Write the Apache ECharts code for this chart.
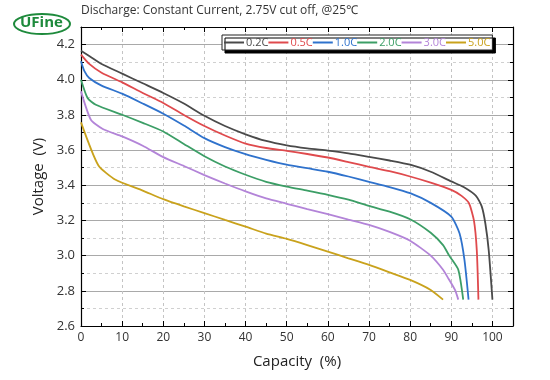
<!DOCTYPE html>
<html>
<head>
<meta charset="utf-8">
<script src="https://cdn.jsdelivr.net/npm/echarts@6/dist/echarts.min.js"></script>
<style>
html,body{margin:0;padding:0;background:#fff;}
#chart{width:550px;height:380px;}
</style>
</head>
<body>
<div id="chart"></div>
<script>
var seriesNames = ['0.2C', '0.5C', '1.0C', '2.0C', '3.0C', '5.0C'];
var seriesColors = ['#4a4a4a', '#df4a4d', '#2f72cc', '#3c9e66', '#b384d8', '#c9a21c'];

var cap02 = [0, 2, 5, 10, 15, 20, 25, 30, 35, 40, 45, 50, 55, 60, 65, 70, 75, 80, 85, 90, 93, 96, 97.4, 98.3, 99.1, 100];
var volt02 = [4.165, 4.135, 4.09, 4.035, 3.98, 3.925, 3.865, 3.795, 3.737, 3.69, 3.652, 3.627, 3.61, 3.597, 3.582, 3.562, 3.541, 3.517, 3.477, 3.422, 3.39, 3.34, 3.28, 3.18, 3.03, 2.75];

var cap05 = [0, 2, 5, 10, 15, 20, 25, 30, 35, 40, 45, 50, 55, 60, 65, 70, 75, 80, 85, 90, 92.5, 94.3, 95.5, 96.2, 96.6];
var volt05 = [4.143, 4.09, 4.04, 3.985, 3.925, 3.868, 3.80, 3.737, 3.683, 3.637, 3.612, 3.596, 3.578, 3.558, 3.532, 3.505, 3.48, 3.45, 3.415, 3.374, 3.34, 3.298, 3.2, 3.03, 2.75];

var cap10 = [0, 0.8, 2, 5, 10, 15, 20, 25, 30, 35, 40, 45, 50, 55, 60, 65, 70, 75, 80, 85, 90, 92, 93.2, 94.2];
var volt10 = [4.105, 4.05, 4.01, 3.967, 3.921, 3.865, 3.807, 3.74, 3.668, 3.617, 3.577, 3.545, 3.517, 3.497, 3.477, 3.45, 3.42, 3.39, 3.355, 3.30, 3.222, 3.127, 2.976, 2.75];

var cap20 = [0, 1.6, 3.6, 10, 15, 20, 25, 30, 35, 40, 45, 50, 55, 60, 65, 70, 75, 80, 85, 88, 89.5, 91.7, 92.9];
var volt20 = [4.0, 3.896, 3.858, 3.801, 3.755, 3.706, 3.635, 3.565, 3.507, 3.46, 3.42, 3.393, 3.37, 3.346, 3.318, 3.283, 3.25, 3.207, 3.13, 3.06, 3.0, 2.92, 2.75];

var cap30 = [0, 2.4, 5.3, 10, 15, 20, 25, 30, 35, 40, 45, 50, 55, 60, 65, 70, 75, 80, 85, 88, 89.3, 90.9, 91.7];
var volt30 = [3.934, 3.773, 3.72, 3.678, 3.625, 3.56, 3.51, 3.458, 3.41, 3.365, 3.325, 3.295, 3.265, 3.236, 3.205, 3.175, 3.135, 3.085, 3.0, 2.92, 2.87, 2.805, 2.75];

var cap50 = [0, 4.2, 8.4, 15, 20, 25, 30, 35, 40, 45, 50, 55, 60, 65, 70, 75, 80, 85, 88];
var volt50 = [3.758, 3.514, 3.431, 3.37, 3.321, 3.28, 3.242, 3.203, 3.165, 3.125, 3.095, 3.06, 3.023, 2.985, 2.947, 2.905, 2.862, 2.805, 2.75];

var xTickLabels = ['0', '10', '20', '30', '40', '50', '60', '70', '80', '90', '100'];
var yTickLabels = ['2.6', '2.8', '3.0', '3.2', '3.4', '3.6', '3.8', '4.0', '4.2'];

var caps = [cap02, cap05, cap10, cap20, cap30, cap50];
var volts = [volt02, volt05, volt10, volt20, volt30, volt50];

function pairs(c, v) { return c.map(function (x, i) { return [x, v[i]]; }); }

var chart = echarts.init(document.getElementById('chart'), null, { renderer: 'canvas' });

var FONT = "'Open Sans', 'Noto Sans', sans-serif";

function xAxisCfg(pos, labels) {
  return {
    type: 'value', position: pos, min: 0, max: 105, interval: 10,
    axisLine: { show: true, onZero: false, lineStyle: { color: '#000', width: 1.2 } },
    axisTick: { show: true, inside: true, length: 5, lineStyle: { color: '#000' } },
    minorTick: { show: true, splitNumber: 2, length: 3, lineStyle: { color: '#000' } },
    axisLabel: {
      show: labels, color: '#333', fontSize: 12, fontFamily: FONT, margin: 6,
      showMaxLabel: false,
      formatter: function (v) { var i = Math.round(v / 10); return (Math.abs(v - i * 10) < 1e-6 && xTickLabels[i] !== undefined) ? xTickLabels[i] : ''; }
    },
    splitLine: { show: labels, lineStyle: { color: '#c4c4c4', type: [3, 3], width: 1 } },
    minorSplitLine: { show: false },
    name: labels ? 'Capacity  (%)' : '', nameLocation: 'middle', nameGap: 28,
    nameTextStyle: { fontSize: 15, color: '#222', fontFamily: FONT }
  };
}
function yAxisCfg(pos, labels) {
  return {
    type: 'value', position: pos, min: 2.6, max: 4.3, interval: 0.2,
    axisLine: { show: true, onZero: false, lineStyle: { color: '#000', width: 1.2 } },
    axisTick: { show: true, inside: true, length: 5, lineStyle: { color: '#000' } },
    minorTick: { show: true, splitNumber: 2, length: 3, lineStyle: { color: '#000' } },
    axisLabel: {
      show: labels, color: '#333', fontSize: 13, fontFamily: FONT, margin: 6,
      showMaxLabel: false,
      formatter: function (v) { var i = Math.round((v - 2.6) / 0.2); return (Math.abs(v - (2.6 + i * 0.2)) < 1e-6 && yTickLabels[i] !== undefined) ? yTickLabels[i] : ''; }
    },
    splitLine: { show: labels, lineStyle: { color: '#a9a9a9', width: 1 } },
    minorSplitLine: { show: labels, lineStyle: { color: '#d0d0d0', type: [3, 3], width: 1 } },
    name: labels ? 'Voltage  (V)' : '', nameLocation: 'middle', nameGap: 30,
    nameTextStyle: { fontSize: 15, color: '#222', fontFamily: FONT }
  };
}

var series = seriesNames.map(function (n, k) {
  return {
    name: n, type: 'line', xAxisIndex: 0, yAxisIndex: 0,
    data: pairs(caps[k], volts[k]),
    showSymbol: false, smooth: 0.2,
    lineStyle: { color: seriesColors[k], width: 1.8 },
    itemStyle: { color: seriesColors[k] },
    z: 10 - k
  };
});

chart.setOption({
  animation: false,
  backgroundColor: '#fff',
  color: seriesColors,
  grid: { left: 81, right: 37, top: 27, bottom: 54, containLabel: false },
  xAxis: [xAxisCfg('bottom', true), xAxisCfg('top', false)],
  yAxis: [yAxisCfg('left', true), yAxisCfg('right', false)],
  legend: {
    left: 222, top: 35,
    data: seriesNames.map(function (n, k) { return { name: n, textStyle: { color: seriesColors[k] } }; }),
    icon: 'rect', itemWidth: 20, itemHeight: 2, itemGap: 0,
    padding: [2, 2, 2, 2],
    backgroundColor: '#fff', borderColor: '#222', borderWidth: 1,
    shadowColor: '#000', shadowBlur: 0, shadowOffsetX: 3, shadowOffsetY: 3,
    textStyle: { fontSize: 11, fontFamily: FONT, padding: [0, 0, 0, -3] }
  },
  graphic: [
    { type: 'text', left: 81, top: 5, style: { text: 'Discharge: Constant Current, 2.75V cut off, @25\u2103', fontSize: 12, fill: '#333', fontFamily: FONT } },
    { type: 'ellipse', shape: { cx: 42, cy: 24, rx: 28, ry: 10 }, style: { fill: 'none', stroke: '#1e8a3c', lineWidth: 2 } },
    { type: 'text', left: 20, top: 15, style: { text: 'UFine', fontSize: 15, fontWeight: 'bold', fill: '#1e8a3c', fontFamily: FONT } }
  ],
  series: series
});
</script>
</body>
</html>
